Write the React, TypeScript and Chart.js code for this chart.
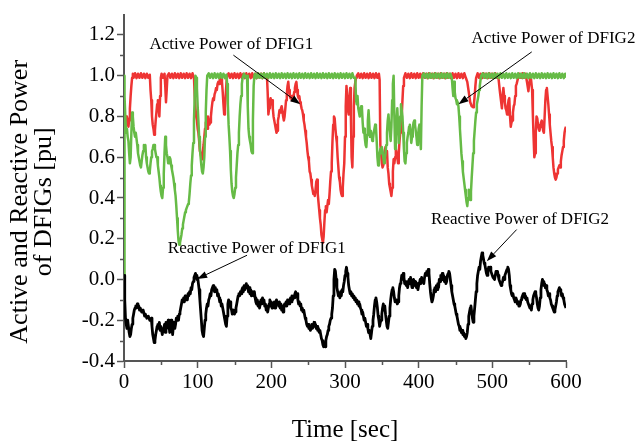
import React, { useEffect, useRef } from "react";
import { Chart, registerables } from "chart.js";

Chart.register(...registerables);

const FONT = "Liberation Serif";

// Active power of DFIG1 (red) [time s, pu]
const redPoints: [number, number][] = [
  [0,0.79],[1,0.74],[2,0.77],[3,0.8],[4,0.76],[5,0.79],[6,0.75],[7,0.78],[8,0.84],[9,0.9],[10,0.95],[11,0.99],[12,1.01],[13,0.99],[15,1.012],[17,0.988],[19,1.01],[21,0.99],[23,1.012],[25,0.99],[27,1.01],[29,0.988],[31,1.01],[33,0.99],[35,1.005],
  [36,0.93],[37,0.88],[38,0.8],[39,0.76],[40,0.74],[41,0.71],[42,0.73],[43,0.78],[44,0.82],[45,0.86],[46,0.88],[47,0.84],[48,0.8],[49,0.9],[50,0.99],[51,1.01],[53,0.99],[55,1.01],[56,0.95],[57,0.87],[58,0.93],[59,1.0],
  [61,1.012],[63,0.99],[65,1.01],[67,0.988],[69,1.012],[71,0.99],[73,1.01],[75,0.988],[77,1.012],[79,0.99],[81,1.01],[83,0.988],[85,1.012],[87,0.99],[89,1.01],[91,0.988],[93,1.012],[95,0.99],
  [96,0.9],[97,0.84],[98,0.8],[99,0.78],[100,0.74],[101,0.72],[102,0.68],[103,0.63],[104,0.62],[105,0.6],[106,0.59],[107,0.63],[108,0.66],[109,0.7],[110,0.74],[111,0.77],[112,0.78],[113,0.74],[114,0.8],[115,0.78],[116,0.76],[117,0.77],[118,0.8],[119,0.84],[120,0.87],[121,0.89],[122,0.88],[123,0.91],[124,0.92],[125,0.94],[126,0.93],[127,0.96],[128,0.97],[129,0.96],[130,0.98],[131,0.97],[132,0.99],[133,0.97],[134,0.92],[135,0.86],[136,0.81],[137,0.84],[138,0.9],[139,0.96],[140,1.0],
  [142,1.012],[144,0.99],[146,1.01],[148,0.988],[150,1.012],[152,0.99],[154,1.01],[156,0.988],[158,1.012],[160,0.99],[162,1.01],[164,0.988],[166,1.012],[168,0.99],[170,1.01],[172,0.988],[174,1.012],[176,0.99],[178,1.01],[180,0.988],[182,1.012],[184,0.99],[186,1.01],[188,0.988],[190,1.012],[192,0.99],[194,1.0],
  [195,0.92],[196,0.81],[197,0.84],[198,0.87],[199,0.89],[200,0.86],[201,0.88],[202,0.84],[203,0.8],[204,0.78],[205,0.76],[206,0.74],[207,0.72],[208,0.73],[209,0.78],[210,0.8],[211,0.83],[212,0.82],[213,0.84],[214,0.85],[215,0.83],[216,0.8],[217,0.78],[218,0.8],[219,0.84],[220,0.88],[221,0.91],[222,0.95],[223,0.97],[224,0.93],[225,0.9],[226,0.89],[227,0.9],[228,0.88],[229,0.9],[230,0.89],[231,0.92],[232,0.94],[233,0.96],[234,0.97],[235,0.93],[236,0.9],[237,0.89],[238,0.9],[239,0.87],[240,0.86],[241,0.84],[242,0.83],[243,0.81],[244,0.78],[245,0.76],[246,0.73],[247,0.7],[248,0.67],[249,0.63],[250,0.6],[251,0.58],[252,0.53],[253,0.52],[254,0.49],[255,0.46],[256,0.44],[257,0.42],[258,0.43],[259,0.41],[260,0.44],[261,0.48],[262,0.49],[263,0.42],[264,0.38],[265,0.34],[266,0.3],[267,0.27],[268,0.22],[269,0.2],[270,0.18],[271,0.21],[272,0.28],[273,0.34],[274,0.36],[275,0.33],[276,0.36],[277,0.39],[278,0.37],[279,0.42],[280,0.48],[281,0.53],[282,0.57],[283,0.68],[284,0.76],[285,0.8],[286,0.79],[287,0.74],[288,0.7],[289,0.67],[290,0.6],[291,0.55],[292,0.5],[293,0.48],[294,0.44],[295,0.42],[296,0.41],[297,0.45],[298,0.52],[299,0.57],[300,0.7],[301,0.85],[302,0.95],[303,0.9],[304,0.83],[305,0.81],[306,0.88],[307,0.94],[308,0.8],[309,0.6],[310,0.55],[311,0.7],[312,0.85],[313,0.94],[314,0.97],[315,0.99],[316,1.0],
  [318,1.012],[320,0.99],[322,1.01],[324,0.988],[326,1.012],[328,0.99],[330,1.01],[332,0.988],[334,1.012],[336,0.99],[338,1.01],[340,0.988],[342,1.012],[344,0.99],[346,1.01],[347,0.98],
  [348,0.66],[349,0.62],[350,0.57],[351,0.55],[352,0.56],[353,0.6],[354,0.63],[355,0.65],[356,0.6],[357,0.63],[358,0.55],[359,0.52],[360,0.47],[361,0.45],[362,0.43],[363,0.41],[364,0.45],[365,0.53],[366,0.59],[367,0.57],[368,0.6],[369,0.64],[370,0.62],[371,0.6],[372,0.57],[373,0.62],[374,0.68],[375,0.72],[376,0.75],[377,0.8],[378,0.88],[379,0.95],[380,0.99],
  [382,1.012],[384,0.99],[386,1.01],[388,0.988],[390,1.012],[392,0.99],[394,1.01],[396,0.988],[398,1.012],[400,0.99],[402,1.01],[404,0.988],[406,1.012],[408,0.99],[410,1.01],[412,0.988],[414,1.012],[416,0.99],[418,1.01],[420,0.988],[422,1.012],[424,0.99],[426,1.01],[428,0.988],[430,1.012],[432,0.99],[434,1.01],[436,0.988],[438,1.012],[440,0.99],[442,1.01],[444,0.988],[446,1.012],[448,0.99],[450,1.01],[452,0.988],[454,1.012],[456,0.99],[458,1.01],[460,0.988],[462,1.012],[464,0.99],[466,0.97],
  [468,0.92],[470,0.87],[472,0.85],[474,0.845],[475,0.86],[476,0.9],[477,0.95],[478,0.99],
  [480,1.012],[482,0.99],[484,1.01],[486,0.988],[488,1.012],[490,0.99],[492,1.01],[494,0.988],[496,1.012],[498,0.99],[500,1.01],[502,0.988],[504,1.012],[506,0.99],[508,1.0],
  [510,0.93],[511,0.9],[512,0.87],[513,0.84],[514,0.9],[515,0.94],[516,0.9],[517,0.87],[518,0.84],[519,0.83],[520,0.81],[521,0.85],[522,0.88],[523,0.89],[524,0.8],[525,0.75],[526,0.77],[527,0.78],[528,0.82],[529,0.85],[530,0.86],[531,0.9],[532,0.95],[533,0.96],[535,0.99],[537,1.01],[539,0.99],[541,1.012],[543,0.99],[545,1.01],[547,0.97],[549,0.924],[550,0.96],[552,1.0],[554,0.93],[555,0.81],[556,0.7],[557,0.6],[558,0.62],[559,0.72],[560,0.8],[561,0.79],[562,0.76],[563,0.74],[564,0.73],[565,0.75],[566,0.77],[567,0.78],[568,0.76],[569,0.73],[570,0.72],[571,0.8],[572,0.88],[573,0.93],[574,0.94],[575,0.9],[576,0.86],[577,0.81],[578,0.76],[579,0.72],[580,0.68],[581,0.65],[582,0.6],[583,0.55],[584,0.52],[585,0.5],[586,0.49],[587,0.5],[588,0.52],[589,0.54],[590,0.55],[591,0.56],[592,0.55],[593,0.58],[594,0.61],[595,0.63],[596,0.65],[597,0.68],[598,0.72],[599,0.74],[600,0.75],
];

// Active power of DFIG2 (green)
const greenPoints: [number, number][] = [
  [0,0.0],[0.4,1.0],[1,0.9],[2,0.78],[3,0.72],[4,0.74],[5,0.7],[6,0.68],[7,0.62],[8,0.57],[9,0.6],[10,0.72],[11,0.82],[12,0.8],[13,0.75],[14,0.72],[15,0.7],[16,0.72],[17,0.69],[18,0.66],[19,0.62],[20,0.6],[21,0.58],[22,0.56],[23,0.55],[24,0.58],[25,0.61],[26,0.63],[27,0.66],[28,0.64],[29,0.66],[30,0.6],[31,0.57],[32,0.55],[33,0.53],[34,0.52],[35,0.53],[36,0.57],[37,0.6],[38,0.63],[39,0.64],[40,0.66],[41,0.66],[42,0.64],[43,0.62],[44,0.6],[45,0.6],[46,0.56],[47,0.53],[48,0.5],[49,0.46],[50,0.43],[51,0.41],[52,0.4],[53,0.45],[54,0.52],[55,0.62],[56,0.7],[57,0.66],[58,0.62],[59,0.6],[60,0.57],[61,0.58],[62,0.6],[63,0.59],[64,0.56],[65,0.54],[66,0.52],[67,0.5],[68,0.47],[69,0.44],[70,0.41],[71,0.36],[72,0.3],[73,0.24],[74,0.19],[75,0.17],[76,0.18],[77,0.2],[78,0.22],[79,0.25],[80,0.27],[81,0.29],[82,0.31],[83,0.33],[84,0.34],[85,0.35],[86,0.36],[87,0.37],[88,0.38],[89,0.42],[90,0.47],[91,0.51],[92,0.56],[93,0.62],[94,0.67],[95,0.78],[96,0.9],[97,1.0],[98,0.99],[99,0.94],[100,0.85],[101,0.78],[102,0.7],[103,0.64],[104,0.6],[105,0.56],[106,0.53],[107,0.52],[108,0.55],[109,0.6],[110,0.7],[111,0.82],[112,0.93],[113,1.0],
  [115,1.012],[117,0.99],[119,1.01],[121,0.988],[123,1.012],[125,0.99],[127,1.01],[129,0.988],[131,1.012],[133,0.99],[135,1.01],[137,0.988],[139,1.005],
  [140,0.96],[141,0.86],[142,0.76],[143,0.7],[144,0.63],[145,0.54],[146,0.47],[147,0.43],[148,0.41],[149,0.4],[150,0.42],[151,0.45],[152,0.5],[153,0.56],[154,0.62],[155,0.66],[156,0.72],[157,0.8],[158,0.86],[159,0.9],[160,0.96],[161,0.99],[163,1.01],[165,0.99],[167,1.0],[168,0.85],[169,0.74],[170,0.7],[171,0.68],[172,0.66],[173,0.63],[174,0.62],[175,0.78],[176,0.95],[177,1.0],
  [178,1.01],[180,0.988],[182,1.012],[184,0.99],[186,1.01],[188,0.988],[190,1.012],[192,0.99],[194,1.01],[196,0.988],[198,1.012],[200,0.99],[202,1.01],[204,0.988],[206,1.012],[208,0.99],[210,1.01],[212,0.988],[214,1.012],[216,0.99],[218,1.01],[220,0.988],[222,1.012],[224,0.99],[226,1.01],[228,0.988],[230,1.012],[232,0.99],[234,1.01],[236,0.988],[238,1.012],[240,0.99],[242,1.01],[244,0.988],[246,1.012],[248,0.99],[250,1.01],[252,0.988],[254,1.012],[256,0.99],[258,1.01],[260,0.988],[262,1.012],[264,0.99],[266,1.01],[268,0.988],[270,1.012],[272,0.99],[274,1.01],[276,0.988],[278,1.012],[280,0.99],[282,1.01],[284,0.988],[286,1.012],[288,0.99],[290,1.01],[292,0.988],[294,1.012],[296,0.99],[298,1.01],[300,0.988],[302,1.012],[304,0.99],[306,1.01],[308,0.988],[310,1.012],[312,0.99],[314,0.99],
  [315,0.88],[316,0.86],[317,0.9],[318,0.84],[319,0.82],[320,0.8],[321,0.83],[322,0.85],[323,0.84],[324,0.77],[325,0.72],[326,0.74],[327,0.69],[328,0.66],[329,0.65],[330,0.71],[331,0.78],[332,0.83],[333,0.76],[334,0.7],[335,0.73],[336,0.71],[337,0.68],[338,0.69],[339,0.72],[340,0.74],[341,0.76],[342,0.75],[343,0.68],[344,0.6],[345,0.56],[346,0.58],[347,0.62],[348,0.64],[349,0.62],[350,0.65],[351,0.63],[352,0.6],[353,0.57],[354,0.59],[355,0.62],[356,0.66],[357,0.72],[358,0.78],[359,0.81],[360,0.76],[361,0.72],[362,0.68],[363,0.75],[364,0.88],[365,0.96],[366,1.0],[367,0.8],[368,0.64],[369,0.7],[370,0.78],[371,0.84],[372,0.76],[373,0.67],[374,0.72],[375,0.8],[376,0.86],[377,0.83],[378,0.8],[379,0.72],[380,0.64],[381,0.58],[382,0.57],[383,0.62],[384,0.67],[385,0.7],[386,0.72],[387,0.75],[388,0.76],[389,0.72],[390,0.67],[391,0.7],[392,0.74],[393,0.77],[394,0.78],[395,0.76],[396,0.73],[397,0.7],[398,0.66],[399,0.69],[400,0.74],[401,0.76],[402,0.7],[403,0.64],[404,0.85],[405,1.0],
  [407,1.012],[409,0.99],[411,1.01],[413,0.988],[415,1.012],[417,0.99],[419,1.01],[421,0.988],[423,1.012],[425,0.99],[427,1.01],[429,0.988],[431,1.012],[433,0.99],[435,1.01],[437,0.988],[439,1.012],[441,0.99],[443,1.01],[445,0.99],
  [446,0.94],[447,0.9],[448,0.97],[449,0.92],[450,0.89],[451,0.88],[452,0.86],[453,0.87],[454,0.85],[455,0.8],[456,0.74],[457,0.68],[458,0.62],[459,0.58],[460,0.53],[461,0.5],[462,0.47],[463,0.44],[464,0.41],[465,0.38],[466,0.36],[467,0.4],[468,0.44],[469,0.42],[470,0.39],[471,0.43],[472,0.5],[473,0.56],[474,0.62],[475,0.68],[476,0.73],[477,0.78],[478,0.82],[479,0.86],[480,0.88],[481,0.9],[482,0.93],[483,0.95],[484,0.98],[485,1.0],
  [487,1.012],[489,0.99],[491,1.01],[493,0.988],[495,1.012],[497,0.99],[499,1.01],[501,0.988],[503,1.012],[505,0.99],[507,1.01],[509,0.988],[511,1.012],[513,0.99],[515,1.01],[517,0.988],[519,1.012],[521,0.99],[523,1.01],[525,0.988],[527,1.012],[529,0.99],[531,1.01],[533,0.988],[535,1.012],[537,0.99],[539,1.01],[541,0.988],[543,1.012],[545,0.99],[547,1.01],[549,0.988],[551,1.012],[553,0.99],[555,1.01],[557,0.988],[559,1.012],[561,0.99],[563,1.01],[565,0.988],[567,1.012],[569,0.99],[571,1.01],[573,0.988],[575,1.012],[577,0.99],[579,1.01],[581,0.988],[583,1.012],[585,0.99],[587,1.01],[589,0.988],[591,1.012],[593,0.99],[595,1.01],[597,0.988],[599,1.01],[600,0.99],
];

// Reactive power of DFIGs (black)
const blackPoints: [number, number][] = [
  [0,0.02],[1,-0.1],[2,-0.19],[3,-0.22],[4,-0.24],[5,-0.2],[6,-0.23],[7,-0.26],[8,-0.28],[9,-0.27],[10,-0.24],[11,-0.22],[12,-0.19],[13,-0.17],[14,-0.15],[15,-0.14],[16,-0.13],[17,-0.14],[18,-0.12],[19,-0.13],[20,-0.13],[21,-0.15],[22,-0.14],[24,-0.16],[26,-0.15],[28,-0.18],[29,-0.17],[31,-0.19],[33,-0.18],[35,-0.2],[37,-0.19],[38,-0.23],[39,-0.27],[40,-0.29],[41,-0.31],[42,-0.3],[43,-0.27],[44,-0.25],[45,-0.23],[46,-0.22],[47,-0.24],[48,-0.21],[49,-0.25],[50,-0.23],[52,-0.27],[53,-0.24],[54,-0.25],[55,-0.22],[56,-0.26],[57,-0.21],[58,-0.24],[60,-0.2],[61,-0.22],[62,-0.26],[63,-0.22],[64,-0.2],[65,-0.23],[66,-0.27],[67,-0.23],[68,-0.21],[69,-0.24],[70,-0.22],[71,-0.19],[72,-0.2],[73,-0.18],[74,-0.2],[75,-0.17],[76,-0.16],[77,-0.14],[78,-0.12],[79,-0.1],[80,-0.11],[81,-0.09],[82,-0.11],[83,-0.08],[84,-0.1],[85,-0.09],[86,-0.1],[87,-0.07],[88,-0.08],[89,-0.06],[90,-0.07],[91,-0.04],[92,-0.05],[93,-0.02],[94,-0.01],[95,0.01],[96,0.02],[97,0.03],[98,0.02],[99,0.0],[100,0.01],[101,-0.02],[102,-0.05],[103,-0.1],[104,-0.15],[105,-0.2],[106,-0.25],[107,-0.27],[108,-0.28],[109,-0.24],[110,-0.2],[111,-0.17],[112,-0.14],[113,-0.12],[114,-0.13],[115,-0.1],[116,-0.09],[117,-0.07],[118,-0.08],[119,-0.05],[120,-0.04],[121,-0.03],[122,-0.05],[123,-0.06],[124,-0.04],[125,-0.06],[126,-0.05],[127,-0.08],[128,-0.07],[129,-0.09],[130,-0.11],[131,-0.1],[132,-0.13],[133,-0.12],[134,-0.14],[135,-0.16],[136,-0.18],[137,-0.2],[138,-0.22],[139,-0.23],[140,-0.18],[141,-0.12],[142,-0.1],[143,-0.12],[144,-0.11],[145,-0.14],[146,-0.15],[147,-0.17],[148,-0.15],[149,-0.16],[150,-0.17],[151,-0.16],[152,-0.14],[153,-0.12],[154,-0.1],[155,-0.08],[156,-0.07],[157,-0.08],[158,-0.06],[159,-0.07],[160,-0.05],[161,-0.04],[162,-0.06],[163,-0.03],[164,-0.05],[165,-0.04],[166,-0.02],[167,-0.04],[168,-0.03],[169,-0.06],[170,-0.04],[171,-0.07],[172,-0.05],[173,-0.08],[174,-0.07],[175,-0.06],[176,-0.08],[177,-0.06],[178,-0.09],[179,-0.11],[180,-0.12],[181,-0.1],[182,-0.13],[183,-0.11],[184,-0.14],[185,-0.12],[186,-0.1],[187,-0.12],[188,-0.09],[189,-0.11],[190,-0.1],[191,-0.13],[192,-0.12],[193,-0.15],[194,-0.13],[195,-0.16],[196,-0.14],[197,-0.12],[198,-0.1],[199,-0.13],[200,-0.11],[201,-0.14],[202,-0.12],[203,-0.13],[204,-0.11],[205,-0.14],[206,-0.12],[207,-0.1],[208,-0.12],[209,-0.11],[210,-0.13],[211,-0.11],[212,-0.14],[213,-0.12],[214,-0.15],[215,-0.13],[216,-0.16],[217,-0.14],[218,-0.12],[219,-0.13],[220,-0.11],[221,-0.13],[222,-0.1],[223,-0.12],[224,-0.1],[225,-0.12],[226,-0.09],[227,-0.11],[228,-0.08],[229,-0.1],[230,-0.08],[231,-0.09],[232,-0.07],[233,-0.06],[234,-0.08],[235,-0.07],[236,-0.1],[237,-0.12],[238,-0.11],[239,-0.13],[240,-0.12],[241,-0.15],[242,-0.14],[243,-0.16],[244,-0.15],[245,-0.17],[246,-0.19],[247,-0.2],[248,-0.22],[249,-0.23],[250,-0.22],[251,-0.24],[252,-0.23],[253,-0.25],[254,-0.24],[255,-0.22],[256,-0.24],[257,-0.23],[258,-0.21],[259,-0.23],[260,-0.22],[261,-0.24],[262,-0.23],[263,-0.25],[264,-0.24],[265,-0.26],[266,-0.25],[267,-0.27],[268,-0.29],[269,-0.3],[270,-0.32],[271,-0.33],[272,-0.31],[273,-0.33],[274,-0.3],[275,-0.28],[276,-0.27],[277,-0.25],[278,-0.23],[279,-0.22],[280,-0.2],[281,-0.19],[282,-0.17],[283,-0.14],[284,-0.08],[285,0.0],[286,0.05],[287,0.04],[288,0.0],[289,-0.04],[290,-0.06],[291,-0.08],[292,-0.07],[293,-0.09],[294,-0.06],[295,-0.08],[296,-0.05],[297,-0.06],[298,-0.03],[299,-0.01],[300,0.02],[301,0.04],[302,0.06],[303,0.03],[304,0.01],[305,-0.03],[306,-0.05],[307,-0.07],[308,-0.06],[309,-0.08],[310,-0.07],[311,-0.09],[312,-0.08],[313,-0.1],[314,-0.09],[315,-0.11],[316,-0.1],[317,-0.12],[318,-0.11],[319,-0.13],[320,-0.12],[321,-0.14],[322,-0.15],[323,-0.17],[324,-0.16],[325,-0.18],[326,-0.2],[327,-0.19],[328,-0.21],[329,-0.23],[330,-0.22],[331,-0.24],[332,-0.26],[333,-0.25],[334,-0.27],[335,-0.29],[336,-0.26],[337,-0.23],[338,-0.2],[339,-0.17],[340,-0.13],[341,-0.1],[342,-0.09],[343,-0.11],[344,-0.14],[345,-0.18],[346,-0.2],[347,-0.23],[348,-0.21],[349,-0.2],[350,-0.17],[351,-0.14],[352,-0.12],[353,-0.15],[354,-0.13],[355,-0.17],[356,-0.2],[357,-0.23],[358,-0.24],[359,-0.21],[360,-0.18],[361,-0.14],[362,-0.1],[363,-0.07],[364,-0.05],[365,-0.04],[366,-0.06],[367,-0.09],[368,-0.11],[369,-0.1],[370,-0.1],[371,-0.12],[372,-0.11],[373,-0.08],[374,-0.04],[375,-0.02],[376,-0.01],[377,0.02],[378,0.0],[379,0.03],[380,0.01],[381,-0.02],[382,-0.01],[383,-0.03],[384,-0.01],[385,-0.04],[386,-0.02],[387,0.0],[388,-0.02],[389,0.01],[390,-0.02],[391,-0.04],[392,-0.02],[393,0.0],[394,-0.01],[395,-0.03],[396,-0.01],[397,-0.04],[398,-0.02],[399,-0.05],[400,-0.03],[401,-0.02],[402,0.0],[403,-0.02],[404,0.01],[405,-0.01],[406,0.0],[407,-0.02],[408,0.01],[409,0.03],[410,0.02],[411,0.04],[412,0.02],[413,0.05],[414,0.03],[415,-0.02],[416,-0.06],[417,-0.09],[418,-0.11],[419,-0.1],[420,-0.08],[421,-0.05],[422,-0.04],[423,-0.06],[424,-0.03],[425,-0.05],[426,-0.02],[427,-0.04],[428,0.0],[429,-0.01],[430,0.02],[431,0.01],[432,0.03],[433,0.0],[434,0.02],[435,-0.01],[436,0.01],[437,-0.02],[438,-0.01],[439,0.02],[440,0.03],[441,0.04],[442,0.03],[443,0.0],[444,-0.03],[445,-0.06],[446,-0.08],[447,-0.1],[448,-0.12],[449,-0.13],[450,-0.15],[451,-0.17],[452,-0.18],[453,-0.2],[454,-0.22],[455,-0.23],[456,-0.25],[457,-0.24],[458,-0.26],[459,-0.25],[460,-0.27],[461,-0.26],[462,-0.28],[463,-0.27],[464,-0.29],[465,-0.28],[466,-0.26],[467,-0.22],[468,-0.18],[469,-0.16],[470,-0.14],[471,-0.13],[472,-0.16],[473,-0.19],[474,-0.21],[475,-0.18],[476,-0.14],[477,-0.1],[478,-0.06],[479,-0.02],[480,0.02],[481,0.04],[482,0.06],[483,0.05],[484,0.09],[485,0.11],[486,0.13],[487,0.12],[488,0.1],[489,0.08],[490,0.07],[491,0.05],[492,0.03],[493,0.02],[494,0.04],[495,0.06],[496,0.05],[497,0.06],[498,0.04],[499,0.03],[500,0.02],[501,0.01],[502,0.01],[503,0.0],[504,0.02],[505,0.04],[506,0.03],[507,0.04],[508,0.02],[509,0.0],[510,-0.01],[511,-0.02],[512,-0.03],[513,-0.02],[514,-0.01],[515,0.01],[516,0.0],[517,0.02],[518,0.03],[519,0.04],[520,0.05],[521,0.06],[522,0.05],[523,0.02],[524,-0.03],[525,-0.05],[526,-0.07],[527,-0.08],[528,-0.07],[529,-0.09],[530,-0.1],[531,-0.11],[532,-0.09],[533,-0.1],[534,-0.12],[535,-0.11],[536,-0.13],[537,-0.13],[538,-0.12],[539,-0.1],[540,-0.09],[541,-0.08],[542,-0.07],[543,-0.07],[544,-0.09],[545,-0.08],[546,-0.1],[547,-0.09],[548,-0.11],[549,-0.12],[550,-0.13],[551,-0.14],[552,-0.13],[553,-0.15],[554,-0.12],[555,-0.1],[556,-0.08],[557,-0.07],[558,-0.06],[559,-0.07],[560,-0.09],[561,-0.12],[562,-0.14],[563,-0.15],[564,-0.13],[565,-0.09],[566,-0.05],[567,-0.02],[568,0.0],[569,-0.01],[570,-0.03],[571,-0.02],[572,-0.04],[573,-0.03],[574,-0.05],[575,-0.06],[576,-0.08],[577,-0.07],[578,-0.09],[579,-0.1],[580,-0.12],[581,-0.13],[582,-0.14],[583,-0.15],[584,-0.16],[585,-0.15],[586,-0.13],[587,-0.11],[588,-0.08],[589,-0.06],[590,-0.05],[591,-0.04],[592,-0.05],[593,-0.06],[594,-0.08],[595,-0.07],[596,-0.09],[597,-0.1],[598,-0.12],[599,-0.13],[600,-0.14],
];

const xTitle = "Time [sec]";
const yTitle = ["Active and Reactive Power", "of DFIGs [pu]"];

// Annotation labels and arrows (data coordinates)
const annotationTexts = ["Active Power of DFIG1", "Active Power of DFIG2", "Reactive Power of DFIG1", "Reactive Power of DFIG2"];
const annotationAnchors: [number, number][] = [[145.8, 1.155], [583, 1.184], [180.3, 0.15], [537.6, 0.295]];
const arrowTails: [number, number][] = [[148.5, 1.101], [553.5, 1.117], [167, 0.119], [533, 0.245]];
const arrowHeads: [number, number][] = [[239.3, 0.86], [454, 0.86], [99.3, 0.003], [492.5, 0.09]];

const minorXTicks = [50, 150, 250, 350, 450, 550];
const minorYTicks = [-0.3, -0.1, 0.1, 0.3, 0.5, 0.7, 0.9, 1.1];

const AXIS_COLOR = "#555555";

const toXY = (pts: [number, number][]) => pts.map(([x, y]) => ({ x, y }));

const decorPlugin = {
  id: "decor",
  afterDraw(chart: any) {
    const ctx = chart.ctx as CanvasRenderingContext2D;
    const xs = chart.scales.x;
    const ys = chart.scales.y;
    const area = chart.chartArea;
    ctx.save();
    // minor ticks
    ctx.strokeStyle = AXIS_COLOR;
    ctx.lineWidth = 1.5;
    ctx.beginPath();
    minorXTicks.forEach((v) => {
      const px = Math.round(xs.getPixelForValue(v)) + 0.5;
      ctx.moveTo(px, area.bottom);
      ctx.lineTo(px, area.bottom + 4);
    });
    minorYTicks.forEach((v) => {
      const py = Math.round(ys.getPixelForValue(v)) + 0.5;
      ctx.moveTo(area.left, py);
      ctx.lineTo(area.left - 4, py);
    });
    ctx.stroke();
    // y-axis title (two rotated lines)
    ctx.fillStyle = "#000";
    ctx.font = `26px "${FONT}"`;
    ctx.textAlign = "center";
    ctx.textBaseline = "alphabetic";
    const titleCenterY = (area.top + area.bottom) / 2 + 14;
    const baselines = [27, 51];
    yTitle.forEach((line, i) => {
      ctx.save();
      ctx.translate(baselines[i], titleCenterY);
      ctx.rotate(-Math.PI / 2);
      ctx.fillText(line, 0, 0);
      ctx.restore();
    });
    // annotations
    ctx.fillStyle = "#000";
    ctx.strokeStyle = "#000";
    ctx.font = `17px "${FONT}"`;
    ctx.textAlign = "center";
    ctx.textBaseline = "middle";
    annotationTexts.forEach((t, i) => {
      const [ax, ay] = annotationAnchors[i];
      ctx.fillText(t, xs.getPixelForValue(ax), ys.getPixelForValue(ay));
      const [tx, ty] = arrowTails[i];
      const [hx, hy] = arrowHeads[i];
      const x1 = xs.getPixelForValue(tx), y1 = ys.getPixelForValue(ty);
      const x2 = xs.getPixelForValue(hx), y2 = ys.getPixelForValue(hy);
      const ang = Math.atan2(y2 - y1, x2 - x1);
      const len = 10, hw = 3.5;
      const bx = x2 - len * Math.cos(ang), by = y2 - len * Math.sin(ang);
      ctx.lineWidth = 1;
      ctx.beginPath();
      ctx.moveTo(x1, y1);
      ctx.lineTo(bx, by);
      ctx.stroke();
      ctx.beginPath();
      ctx.moveTo(x2, y2);
      ctx.lineTo(bx + hw * Math.sin(ang), by - hw * Math.cos(ang));
      ctx.lineTo(bx - hw * Math.sin(ang), by + hw * Math.cos(ang));
      ctx.closePath();
      ctx.fill();
    });
    ctx.restore();
  },
};

export default function App() {
  const ref = useRef<HTMLCanvasElement>(null);
  useEffect(() => {
    if (!ref.current) return;
    Chart.defaults.font.family = FONT;
    const chart = new Chart(ref.current, {
      type: "line",
      data: {
        datasets: [
          { label: "Reactive Power", data: toXY(blackPoints), borderColor: "#000000", borderWidth: 2.8, order: 0 },
          { label: "Active Power of DFIG2", data: toXY(greenPoints), borderColor: "#66bb46", borderWidth: 2.5, order: 1 },
          { label: "Active Power of DFIG1", data: toXY(redPoints), borderColor: "#ee3433", borderWidth: 2.5, order: 2 },
        ].map((d) => ({ ...d, pointRadius: 0, tension: 0, fill: false, borderJoinStyle: "round" as const })),
      },
      options: {
        responsive: false,
        animation: false,
        events: [],
        layout: { padding: { left: 0, right: 74, top: 10, bottom: 0 } },
        plugins: { legend: { display: false }, tooltip: { enabled: false } },
        scales: {
          x: {
            type: "linear",
            min: 0,
            max: 600,
            ticks: { stepSize: 100, color: "#000", font: { size: 21, family: FONT }, padding: 2, maxRotation: 0 },
            grid: { display: true, drawOnChartArea: false, tickLength: 7, color: AXIS_COLOR, tickWidth: 1.5 },
            border: { display: true, color: AXIS_COLOR, width: 2 },
            title: { display: true, text: xTitle, color: "#000", font: { size: 25, family: FONT, lineHeight: 1.2 }, padding: { top: 0, bottom: 3 } },
            afterFit: (s: any) => { s.height = 87; },
          },
          y: {
            type: "linear",
            min: -0.4,
            max: 1.3,
            ticks: {
              stepSize: 0.2,
              includeBounds: false,
              color: "#000",
              font: { size: 21, family: FONT },
              padding: 2,
              callback: (v: any) => (Math.abs(Number(v)) < 1e-9 ? "0.0" : Number(v).toFixed(1)),
            },
            grid: { display: true, drawOnChartArea: false, tickLength: 7, color: AXIS_COLOR, tickWidth: 1.5 },
            border: { display: true, color: AXIS_COLOR, width: 2 },
            title: { display: false },
            afterFit: (s: any) => { s.width = 124; },
          },
        },
      },
      plugins: [decorPlugin],
    } as any);
    return () => chart.destroy();
  }, []);
  return (
    <div style={{ position: "absolute", left: 0, top: 0, width: 640, height: 448, background: "#fff" }}>
      <canvas ref={ref} width={640} height={448} style={{ width: 640, height: 448, display: "block" }} />
    </div>
  );
}
